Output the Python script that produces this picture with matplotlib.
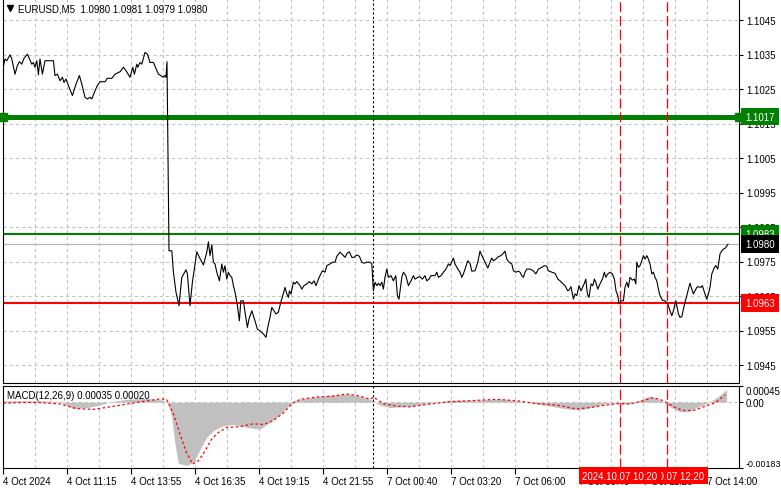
import matplotlib
matplotlib.use("Agg")
import matplotlib.pyplot as plt
import matplotlib.transforms as mtransforms
import numpy as np

# ---------------- data ----------------
# bar index (5-minute bars, 0 = 4 Oct 08:35) and close price, Friday session
fri_t = [0, 1.0, 1.9, 3.5, 4.4, 6, 7.2, 8.2, 9.4, 10.5, 12.2, 14.4, 15.2, 16, 16.9, 17.7, 18.5, 19.7, 21,
         25.2, 26, 27.2, 28.5, 29.7, 30.5, 31.5, 32.7, 34.7, 36, 36.5, 38.2, 39.4, 41, 42.2, 43.5, 44.4, 46,
         47.2, 48.5, 51, 52.2, 54.4, 56, 57.7, 58.5, 60.2, 61.5, 63.5, 64.9, 65.7, 66.9, 67.4, 68.5, 69.4, 71,
         72.2, 73.5, 75.2, 77.7, 80.2, 81, 81.5, 82, 83,
         84.4, 85.2, 86.5, 88, 89.4, 91.5, 92.2, 93.5, 94.7, 96.9, 98.2, 100.2, 101.9, 102.7, 103.5, 104.4,
         105.2, 106, 106.9, 108.2, 109.4, 110.2, 111, 111.9, 112.7, 113.5, 114.4, 115.2, 116, 117.2, 118.2,
         118.9, 120.2, 121, 122.2, 123, 124.4, 126, 127.2, 128.5, 130.2, 131.5, 132.2, 133.5, 134.4, 135.5,
         136.5, 137.7, 138.9, 139.9, 141, 141.9, 142.7, 143.2, 144, 145.2, 146, 146.9, 148.5, 149.4, 150.5,
         151.9, 153.2, 154.4, 155.5, 156.5, 157.7, 158.9, 159.7, 161, 161.9, 163.5, 164.9, 166, 166.9, 168.5,
         169.9, 171, 172.2, 173.2, 174.4, 175.5, 176.9, 178.2, 179.4, 180.5, 181.9, 183.5, 184.4]
fri_close = [1.10310, 1.10337, 1.10332, 1.10349, 1.10337, 1.10293, 1.10318, 1.10329, 1.10322, 1.10339,
             1.10351, 1.10322, 1.10327, 1.10313, 1.10332, 1.10291, 1.10337, 1.10293, 1.10332, 1.10332,
             1.10289, 1.10293, 1.10274, 1.10284, 1.10269, 1.10279, 1.10260, 1.10231, 1.10255, 1.10264,
             1.10289, 1.10264, 1.10226, 1.10221, 1.10226, 1.10221, 1.10245, 1.10260, 1.10271, 1.10271,
             1.10281, 1.10281, 1.10293, 1.10298, 1.10300, 1.10313, 1.10303, 1.10284, 1.10313, 1.10293,
             1.10322, 1.10313, 1.10327, 1.10322, 1.10356, 1.10351, 1.10327, 1.10327, 1.10293, 1.10284,
             1.10289, 1.10284, 1.10329, 1.09781,
             1.09781, 1.09719, 1.09661, 1.09622, 1.09704, 1.09726, 1.09714, 1.09622, 1.09690, 1.09778,
             1.09762, 1.09740, 1.09777, 1.09807, 1.09767, 1.09798, 1.09748, 1.09743, 1.09719, 1.09694,
             1.09743, 1.09719, 1.09738, 1.09699, 1.09719, 1.09709, 1.09704, 1.09680, 1.09661, 1.09622,
             1.09578, 1.09636, 1.09636, 1.09603, 1.09559, 1.09583, 1.09607, 1.09578, 1.09554, 1.09549,
             1.09540, 1.09530, 1.09554, 1.09588, 1.09617, 1.09607, 1.09598, 1.09603, 1.09632, 1.09651,
             1.09675, 1.09656, 1.09646, 1.09665, 1.09656, 1.09690, 1.09685, 1.09692, 1.09680, 1.09670,
             1.09680, 1.09685, 1.09692, 1.09685, 1.09694, 1.09680, 1.09699, 1.09714, 1.09723, 1.09719,
             1.09738, 1.09743, 1.09748, 1.09748, 1.09765, 1.09777, 1.09769, 1.09762, 1.09775, 1.09778,
             1.09762, 1.09762, 1.09769, 1.09765, 1.09748, 1.09745, 1.09748, 1.09748, 1.09743]

# Monday session
mon_t = [185.2, 186, 186.9, 187.7, 188.5, 189.4, 190.2, 191, 191.9, 192.7, 194, 195.2, 196.4, 197.2, 198,
         199.4, 200.2, 201.4, 202.7, 204, 205.2, 206, 207.4, 208.5, 209.7, 211, 211.9, 213, 214, 216, 216.9,
         217.7, 219, 220.2, 221.5, 222.7, 223.5, 225.2, 226, 227.4, 228.5, 229.4, 230.2, 231, 232.4, 233.5,
         234.4, 236, 237.4, 238.5, 239.7, 241, 242.4, 243.5, 244.4, 245.2, 246.4, 247.7, 249, 249.9, 251,
         251.9, 253, 254.4, 255.2, 256.4, 257.7, 258.5, 259.4, 260.2, 261, 261.9, 263.5, 265.2, 266.4, 267.7,
         269.4, 270.7, 271.9, 272.7, 274.4, 276,
         277.4, 278.5, 279.7, 281, 282.4, 283, 284, 285.2, 286, 286.9, 288, 289, 290.2, 290.7, 291.4, 292.2,
         293, 294, 294.9, 295.7, 296.4, 297.4, 298.5, 299.7, 300.7, 301.4, 302.4, 303.5, 304.7, 305.7, 306.5,
         307.4, 308, 309, 310.2, 311, 311.9, 312.7, 313.5, 314.7, 315.7, 316.4, 316.9, 317.7, 318.5, 319.4,
         320.2, 321, 321.9, 322.7, 323.5, 324.4, 325.2, 326, 326.9, 327.7, 328.5, 329.7, 331, 332.4, 333.5,
         334.4, 335.2, 336.4, 336.9, 337.7, 338.5, 339.4, 340.2, 341, 341.9, 342.7, 343.5, 344.4, 345.2, 346,
         346.9, 347.7, 349, 349.7, 350.7, 351.9, 352.7, 353.5, 354.4, 355.7, 356.4, 357.4, 358.5, 359.4,
         360.2, 361, 361.9, 362.5]
mon_close = [1.09665, 1.09690, 1.09680, 1.09687, 1.09680, 1.09690, 1.09670, 1.09704, 1.09728, 1.09704,
             1.09709, 1.09694, 1.09709, 1.09651, 1.09641, 1.09704, 1.09719, 1.09709, 1.09680, 1.09694,
             1.09709, 1.09699, 1.09704, 1.09706, 1.09699, 1.09709, 1.09694, 1.09699, 1.09709, 1.09709,
             1.09719, 1.09704, 1.09709, 1.09719, 1.09728, 1.09743, 1.09738, 1.09760, 1.09743, 1.09728,
             1.09719, 1.09704, 1.09714, 1.09728, 1.09752, 1.09745, 1.09722, 1.09723, 1.09748, 1.09780,
             1.09764, 1.09748, 1.09731, 1.09748, 1.09760, 1.09752, 1.09757, 1.09764, 1.09767, 1.09772,
             1.09780, 1.09757, 1.09748, 1.09743, 1.09723, 1.09719, 1.09722, 1.09719, 1.09709, 1.09704,
             1.09719, 1.09728, 1.09728, 1.09723, 1.09714, 1.09728, 1.09733, 1.09738, 1.09736, 1.09723,
             1.09719, 1.09716,
             1.09699, 1.09694, 1.09687, 1.09680, 1.09665, 1.09667, 1.09677, 1.09641, 1.09656, 1.09651,
             1.09680, 1.09665, 1.09680, 1.09687, 1.09699, 1.09656, 1.09646, 1.09685, 1.09680, 1.09699,
             1.09690, 1.09670, 1.09685, 1.09699, 1.09719, 1.09704, 1.09714, 1.09719, 1.09714, 1.09699,
             1.09665, 1.09651, 1.09627, 1.09636, 1.09636, 1.09675, 1.09690, 1.09675, 1.09704, 1.09696,
             1.09699, 1.09685, 1.09748, 1.09733, 1.09738, 1.09752, 1.09767, 1.09757, 1.09767, 1.09757,
             1.09743, 1.09714, 1.09719, 1.09704, 1.09694, 1.09670, 1.09651, 1.09638, 1.09636, 1.09627,
             1.09607, 1.09593, 1.09607, 1.09636, 1.09622, 1.09598, 1.09588, 1.09590, 1.09612, 1.09632,
             1.09651, 1.09670, 1.09687, 1.09670, 1.09656, 1.09665, 1.09675, 1.09677, 1.09675, 1.09680,
             1.09661, 1.09641, 1.09656, 1.09675, 1.09714, 1.09733, 1.09738, 1.09728, 1.09772, 1.09781,
             1.09786, 1.09788, 1.09795, 1.09800]

# MACD(12,26,9) main values (histogram) and signal line
macd_t = [0.2, 8.5, 18.5, 28.5, 35, 42, 48.5, 53.5, 62, 72, 80, 82.5, 84.3, 86, 87.7, 91.8, 95.2, 98.5,
          101.8, 105.2, 110.2, 115.2, 121.8, 128.5, 133.5, 138.5, 141.8, 145.2, 151.8, 158.5, 165.2, 171.8,
          178.5, 183.5, 188.5, 193.5, 203.5, 213.5, 223.5, 236.8, 250.2, 260.2, 270.2, 283.5, 290.2, 298.5,
          303.5, 310.2, 315.2, 319.3, 322.7, 326, 330.2, 334.3, 338.5, 343.5, 348.5, 353.5, 357.7, 361.8]
macd_val = [0.00004, 0.00004, 0.00004, 0.00001, -0.00018, -0.00015, -0.00008, 0.00001, 0.00008, 0.00011,
            0.00006, -0.00003, -0.00041, -0.00117, -0.00170, -0.00176, -0.00167, -0.00132, -0.00098,
            -0.00079, -0.00065, -0.00062, -0.00070, -0.00075, -0.00056, -0.00034, -0.00015, 0.00004,
            0.00011, 0.00016, 0.00020, 0.00023, 0.00017, 0.00008, -0.00008, -0.00015, -0.00011, -0.00003,
            0.00006, 0.00006, 0.00009, 0.00001, -0.00008, -0.00020, -0.00020, -0.00008, -0.00002, -0.00005,
            -0.00003, 0.00008, 0.00016, 0.00013, 0.00001, -0.00015, -0.00027, -0.00024, -0.00011, 0.00001,
            0.00016, 0.00035]
sig_t = [0.2, 8.5, 18.5, 28.5, 36.8, 45.2, 53.5, 62, 70.2, 78.5, 81.8, 85.2, 88.5, 91.8, 94.8, 97.7, 101,
         104.3, 107.7, 112, 118.5, 125.2, 130.2, 135.2, 140.2, 144.3, 148.5, 156.8, 165.2, 171.8, 178.5,
         183.5, 185.2, 190.2, 196.8, 203.5, 213.5, 223.5, 233.5, 246.8, 256.8, 266.8, 276.8, 286.8, 293.5,
         300.2, 306.8, 313.5, 320.2, 324.3, 328.5, 332.7, 336.8, 341, 346, 351, 356, 361]
sig_val = [-0.00003, -0.00001, -0.00001, -0.00005, -0.00018, -0.00020, -0.00013, -0.00005, 0.00002,
           0.00009, 0.00008, -0.00032, -0.00089, -0.00141, -0.00172, -0.00163, -0.00136, -0.00103,
           -0.00084, -0.00070, -0.00068, -0.00060, -0.00062, -0.00051, -0.00030, -0.00005, 0.00008,
           0.00014, 0.00017, 0.00023, 0.00017, 0.00008, 0.00014, -0.00004, -0.00011, -0.00013, -0.00005,
           0.00001, 0.00004, 0.00008, 0.00004, -0.00004, -0.00008, -0.00019, -0.00015, -0.00009, -0.00004,
           -0.00005, 0.00004, 0.00012, 0.00008, -0.00004, -0.00017, -0.00024, -0.00022, -0.00011,
           -0.00002, 0.00020]

# horizontal levels
level_high = 1.1017
level_mid = 1.0983
level_low = 1.0963
last_price = 1.0980

price_ticks = [1.1045, 1.1035, 1.1025, 1.1015, 1.1005, 1.0995, 1.0985, 1.0975, 1.0965, 1.0955, 1.0945]
time_tick_bars = [0, 32, 64, 96, 128, 160, 192, 224, 256, 288, 320, 352]
time_tick_labels = ["4 Oct 2024", "4 Oct 11:15", "4 Oct 13:55", "4 Oct 16:35", "4 Oct 19:15",
                    "4 Oct 21:55", "7 Oct 00:40", "7 Oct 03:20", "7 Oct 06:00", "7 Oct 08:40",
                    "7 Oct 11:20", "7 Oct 14:00"]
session_sep_bar = 185
marker_bars = [308.5, 332]
marker_labels = ["2024.10.07 10:20", "2024.10.07 12:20"]
macd_scale_ticks = [0.00045, 0.0, -0.00183]
macd_scale_labels = ["0.00045", "0.00", "-0.00183"]

# ---------------- figure ----------------
plt.rcParams['font.family'] = ['Liberation Sans', 'DejaVu Sans']
W, H = 781, 489
fig = plt.figure(figsize=(W / 100, H / 100), dpi=100)
fig.patch.set_facecolor('white')


def box(x0, y0, x1, y1):
    return [x0 / W, 1 - y1 / H, (x1 - x0) / W, (y1 - y0) / H]


ax1 = fig.add_axes(box(3, 0, 739, 384))
ax2 = fig.add_axes(box(3, 387, 739, 469))

GREEN = '#008000'
GRID = '#c0c0c0'
FS = 7

for ax in (ax1, ax2):
    ax.set_xlim(0, 368)
    for s in ax.spines.values():
        s.set_linewidth(0.8)
        s.set_color('black')
    for b in np.arange(16, 368, 16):
        ax.axvline(b, color=GRID, lw=0.75, ls=(0, (3, 3)), zorder=0)
    ax.axvline(session_sep_bar, color='black', lw=0.8, ls=(0, (2, 2)), zorder=4)
    for mb in marker_bars:
        ax.axvline(mb, color='red', lw=0.9, ls=(0, (8, 3)), zorder=4)

ax1.spines['top'].set_visible(False)

# ---- main price panel ----
ax1.set_ylim(1.1045 - 363 / 34500, 1.1045 + 21 / 34500)
for p in price_ticks:
    ax1.axhline(p, color=GRID, lw=0.75, ls=(0, (3, 3)), zorder=0)

ax1.axhline(last_price, color='#b4b4b4', lw=0.8, zorder=1)
ax1.axhline(level_high, color=GREEN, lw=3.6, zorder=2)
ax1.plot([0, 368], [level_high, level_high], ls='none', marker='s', ms=6, color=GREEN,
         clip_on=False, zorder=5)
ax1.axhline(level_mid, color=GREEN, lw=1.5, zorder=2)
ax1.axhline(level_low, color='red', lw=1.5, zorder=2)

ax1.plot(fri_t + mon_t, fri_close + mon_close, color='black', lw=0.8, zorder=3)

ax1.set_xticks([])
ax1.yaxis.tick_right()
ax1.set_yticks(price_ticks)
ax1.set_yticklabels([f"{p:.4f}" for p in price_ticks])
ax1.tick_params(axis='y', length=3, width=0.8, labelsize=FS, pad=2, colors='black')

tr1 = mtransforms.blended_transform_factory(ax1.transAxes, ax1.transData)
for val, fc in [(level_high, GREEN), (level_mid, GREEN), (last_price, 'black'), (level_low, 'red')]:
    ax1.text(1.0085, val, f"{val:.4f}", transform=tr1, ha='left', va='center', fontsize=FS,
             color='white', zorder=10, clip_on=False,
             bbox=dict(boxstyle='square,pad=0.4', fc=fc, ec='none'))

ax1.plot([0.0095], [0.9765], marker='v', ms=4, color='black', transform=ax1.transAxes, clip_on=False)
ax1.text(0.0205, 0.9765, "EURUSD,M5  1.0980 1.0981 1.0979 1.0980", transform=ax1.transAxes,
         ha='left', va='center', fontsize=FS, color='black')

# ---- MACD panel ----
ax2.set_ylim(-0.00183, 0.00045)
ax2.axhline(0, color=GRID, lw=0.75, ls=(0, (3, 3)), zorder=0)
ax2.fill_between(macd_t, 0, macd_val, color='#c0c0c0', lw=0, zorder=2)
ax2.plot(sig_t, sig_val, color='red', lw=0.9, ls=(0, (2, 2)), zorder=3)
ax2.text(0.006, 0.89, "MACD(12,26,9) 0.00035 0.00020", transform=ax2.transAxes, ha='left',
         va='center', fontsize=FS, color='black', zorder=6)

ax2.yaxis.tick_right()
ax2.set_yticks(macd_scale_ticks)
ax2.set_yticklabels(macd_scale_labels)
ax2.tick_params(axis='y', length=3, width=0.8, labelsize=FS, pad=1.5, colors='black')
ylabs = ax2.get_yticklabels()
ylabs[0].set_va('top')
ylabs[-1].set_va('bottom')
ylabs[-1].set_fontsize(6.4)

ax2.set_xticks(time_tick_bars)
ax2.set_xticklabels(time_tick_labels, ha='left')
ax2.tick_params(axis='x', length=4, width=0.8, labelsize=FS, pad=1.5, colors='black')

tr2 = mtransforms.blended_transform_factory(ax2.transData, ax2.transAxes)
for mb, lab, z in [(marker_bars[1], marker_labels[1], 8), (marker_bars[0], marker_labels[0], 9)]:
    ax2.text(mb, -0.095, lab, transform=tr2, ha='center', va='center', fontsize=FS, color='white',
             zorder=z, clip_on=False, bbox=dict(boxstyle='square,pad=0.35', fc='red', ec='none'))

fig.savefig("out.png", dpi=100, facecolor='white')
